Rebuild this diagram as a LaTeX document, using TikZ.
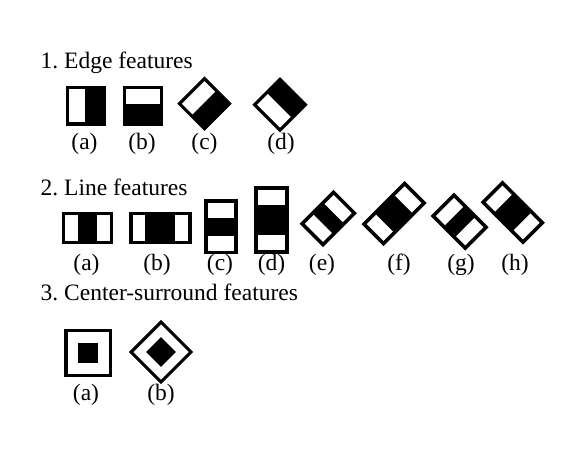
\documentclass[tikz,border=0pt]{standalone}
\usepackage{fontspec}
\setmainfont{Liberation Serif}
\frenchspacing
\def\bw{3.3}
\tikzset{
  lbl/.style={anchor=base, inner sep=0pt, font=\fontsize{23.5}{28}\selectfont},
  ttl/.style={anchor=base west, inner sep=0pt, font=\fontsize{23.5}{28}\selectfont},
  % horizontal run of strips white|black|white; #3 = fraction of interior for each end
  pics/hstrips/.style n args={3}{code={
    \fill[black] (-#1/2,-#2/2) rectangle (#1/2,#2/2);
    \fill[white] (-#1/2+\bw,-#2/2+\bw) rectangle ({-#1/2+\bw+(#1-2*\bw)*#3},#2/2-\bw);
    \fill[white] ({#1/2-\bw-(#1-2*\bw)*#3},-#2/2+\bw) rectangle (#1/2-\bw,#2/2-\bw);
  }},
  % vertical stack of strips white/black/white
  pics/vstrips/.style n args={3}{code={
    \fill[black] (-#1/2,-#2/2) rectangle (#1/2,#2/2);
    \fill[white] (-#1/2+\bw,-#2/2+\bw) rectangle (#1/2-\bw,{-#2/2+\bw+(#2-2*\bw)*#3});
    \fill[white] (-#1/2+\bw,{#2/2-\bw-(#2-2*\bw)*#3}) rectangle (#1/2-\bw,#2/2-\bw);
  }},
  % edge feature: white left part
  pics/leftwhite/.style n args={3}{code={
    \fill[black] (-#1/2,-#2/2) rectangle (#1/2,#2/2);
    \fill[white] (-#1/2+\bw,-#2/2+\bw) rectangle ({-#1/2+\bw+(#1-2*\bw)*#3},#2/2-\bw);
  }},
  % edge feature: white top part
  pics/topwhite/.style n args={3}{code={
    \fill[black] (-#1/2,-#2/2) rectangle (#1/2,#2/2);
    \fill[white] (-#1/2+\bw,-#2/2+\bw) rectangle (#1/2-\bw,{-#2/2+\bw+(#2-2*\bw)*#3});
  }},
  % center-surround
  pics/csurround/.style n args={2}{code={
    \fill[black] (-#1/2,-#1/2) rectangle (#1/2,#1/2);
    \fill[white] (-#1/2+\bw,-#1/2+\bw) rectangle (#1/2-\bw,#1/2-\bw);
    \fill[black] (-#2/2,-#2/2) rectangle (#2/2,#2/2);
  }}
}
\begin{document}
\begin{tikzpicture}[x=1pt,y=-1pt]
\useasboundingbox[fill=white] (0,0) rectangle (583,452);

% 1. Edge features
\node[ttl] (t1) at (40.5,68) {1. Edge features};
\pic at (86,105.5) {leftwhite={40}{40}{0.46}};
\pic at (143,105.5) {topwhite={40}{40}{0.46}};
\pic[rotate=45] at (204.5,103.7) {topwhite={38.5}{38.5}{0.47}};
\pic[rotate=45] at (280,104.7) {leftwhite={39}{39}{0.47}};
\node[lbl] (e1a) at (84.5,149) {(a)};
\node[lbl] (e1b) at (142,149) {(b)};
\node[lbl] (e1c) at (204.5,149) {(c)};
\node[lbl] (e1d) at (281,149) {(d)};

% 2. Line features
\node[ttl] (t2) at (40.5,195) {2. Line features};
\begin{scope}
\def\bw{3.7}
\pic at (87.5,228) {hstrips={51.6}{32.5}{0.29}};
\pic at (160.3,228) {hstrips={62.7}{32.5}{0.23}};
\pic at (221,226.7) {vstrips={34}{55}{0.31}};
\pic at (271.5,220) {vstrips={35}{68}{0.25}};
\pic[rotate=45] at (328.3,218.5) {hstrips={48}{33}{0.31}};
\pic[rotate=45] at (394,213.6) {hstrips={61}{31}{0.25}};
\pic[rotate=-45] at (459.6,221.6) {hstrips={49}{33}{0.31}};
\pic[rotate=-45] at (512.7,212.5) {hstrips={60}{31}{0.25}};
\end{scope}
\node[lbl] (l2a) at (86.5,270) {(a)};
\node[lbl] (l2b) at (157,270) {(b)};
\node[lbl] (l2c) at (220,270) {(c)};
\node[lbl] (l2d) at (271.5,270) {(d)};
\node[lbl] (l2e) at (322,270) {(e)};
\node[lbl] (l2f) at (399,270) {(f)};
\node[lbl] (l2g) at (461,270) {(g)};
\node[lbl] (l2h) at (515,270) {(h)};

% 3. Center-surround features
\node[ttl] (t3) at (40.5,300) {3. Center-surround features};
\pic at (88.2,353) {csurround={48}{20.5}};
\pic[rotate=45] at (161,352) {csurround={45.5}{21}};
\node[lbl] (c3a) at (86,400) {(a)};
\node[lbl] (c3b) at (161,400) {(b)};
\end{tikzpicture}
\end{document}
